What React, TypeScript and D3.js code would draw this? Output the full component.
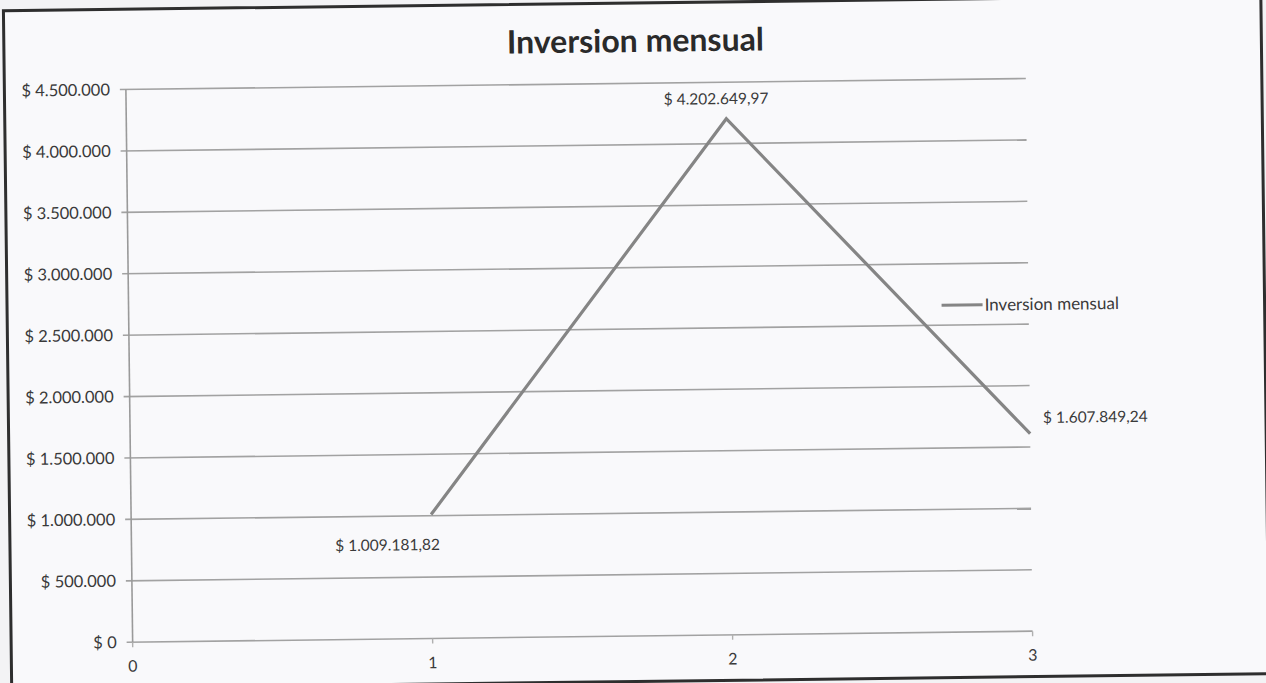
import React from "react";
import * as d3 from "d3";

const xValues = [1, 2, 3];
const inversion = [1009181.82, 4202649.97, 1607849.24];
const seriesName = "Inversion mensual";
const title = "Inversion mensual";
const yTickValues = [0, 500000, 1000000, 1500000, 2000000, 2500000, 3000000, 3500000, 4000000, 4500000];
const xTickValues = [0, 1, 2, 3];
const labelOffsets: [number, number, string][] = [
  [-44, 30, "middle"],
  [-10, -20, "middle"],
  [13, -16, "start"],
];

const locale = d3.formatLocale({
  decimal: ",",
  thousands: ".",
  grouping: [3],
  currency: ["$ ", ""],
});
const fmtTick = locale.format("$,.0f");
const fmtLabel = locale.format("$,.2f");

const W = 1266;
const H = 683;
const FONT = "Lato, Calibri, 'Open Sans', sans-serif";

export default function App() {
  const x = d3.scaleLinear().domain([0, 3]).range([129, 1029]);
  const y = d3.scaleLinear().domain([0, 4500000]).range([636, 83.3]);
  const line = d3
    .line<number>()
    .x((_, i) => x(xValues[i]))
    .y((d) => y(d));

  const textColor = "#3a3a3a";
  const gridColor = "#a2a2a2";

  return (
    <svg
      width={W}
      height={H}
      style={{ position: "absolute", left: 0, top: 0, background: "#f3f3f5" }}
    >
      <rect x={0} y={0} width={W} height={H} fill="#f3f3f5" />
      <g transform="rotate(-0.7 635 341)">
        <rect x={7.5} y={3} width={1257.5} height={678.5} fill="#f9f9fb" stroke="#2e2e2e" strokeWidth={3} />
        <text
          x={639}
          y={52}
          textAnchor="middle"
          fontFamily={FONT}
          fontWeight="bold"
          fontSize={32}
          fill="#2a2a2a"
        >
          {title}
        </text>
        {yTickValues.map((v) => (
          <g key={v}>
            <line x1={x(0) - 6} x2={x(3)} y1={y(v)} y2={y(v)} stroke={gridColor} strokeWidth={1.6} />
            <text
              x={113}
              y={y(v)}
              dy="0.35em"
              textAnchor="end"
              fontFamily={FONT}
              fontSize={16.5}
              fill={textColor}
            >
              {fmtTick(v)}
            </text>
          </g>
        ))}
        <line x1={x(0)} x2={x(0)} y1={y(4500000)} y2={y(0)} stroke="#9a9a9a" strokeWidth={1.6} />
        {xTickValues.map((v) => (
          <g key={v}>
            <line x1={x(v)} x2={x(v)} y1={y(0)} y2={y(0) + 5} stroke="#b0b0b0" strokeWidth={1.4} />
            <text
              x={x(v)}
              y={660}
              dy="0.35em"
              textAnchor="middle"
              fontFamily={FONT}
              fontSize={16}
              fill={textColor}
            >
              {v}
            </text>
          </g>
        ))}
        <path d={line(inversion) || ""} fill="none" stroke="#858585" strokeWidth={3.2} strokeLinejoin="miter" />
        {inversion.map((v, i) => (
          <text
            key={i}
            x={x(xValues[i]) + labelOffsets[i][0]}
            y={y(v) + labelOffsets[i][1]}
            dy="0.35em"
            textAnchor={labelOffsets[i][2] as any}
            fontFamily={FONT}
            fontSize={15.5}
            fill={textColor}
          >
            {fmtLabel(v)}
          </text>
        ))}
        <line x1={942} x2={983} y1={309} y2={309} stroke="#858585" strokeWidth={3} />
        <text x={985} y={309} dy="0.35em" fontFamily={FONT} fontSize={17} fill={textColor}>
          {seriesName}
        </text>
      </g>
    </svg>
  );
}
